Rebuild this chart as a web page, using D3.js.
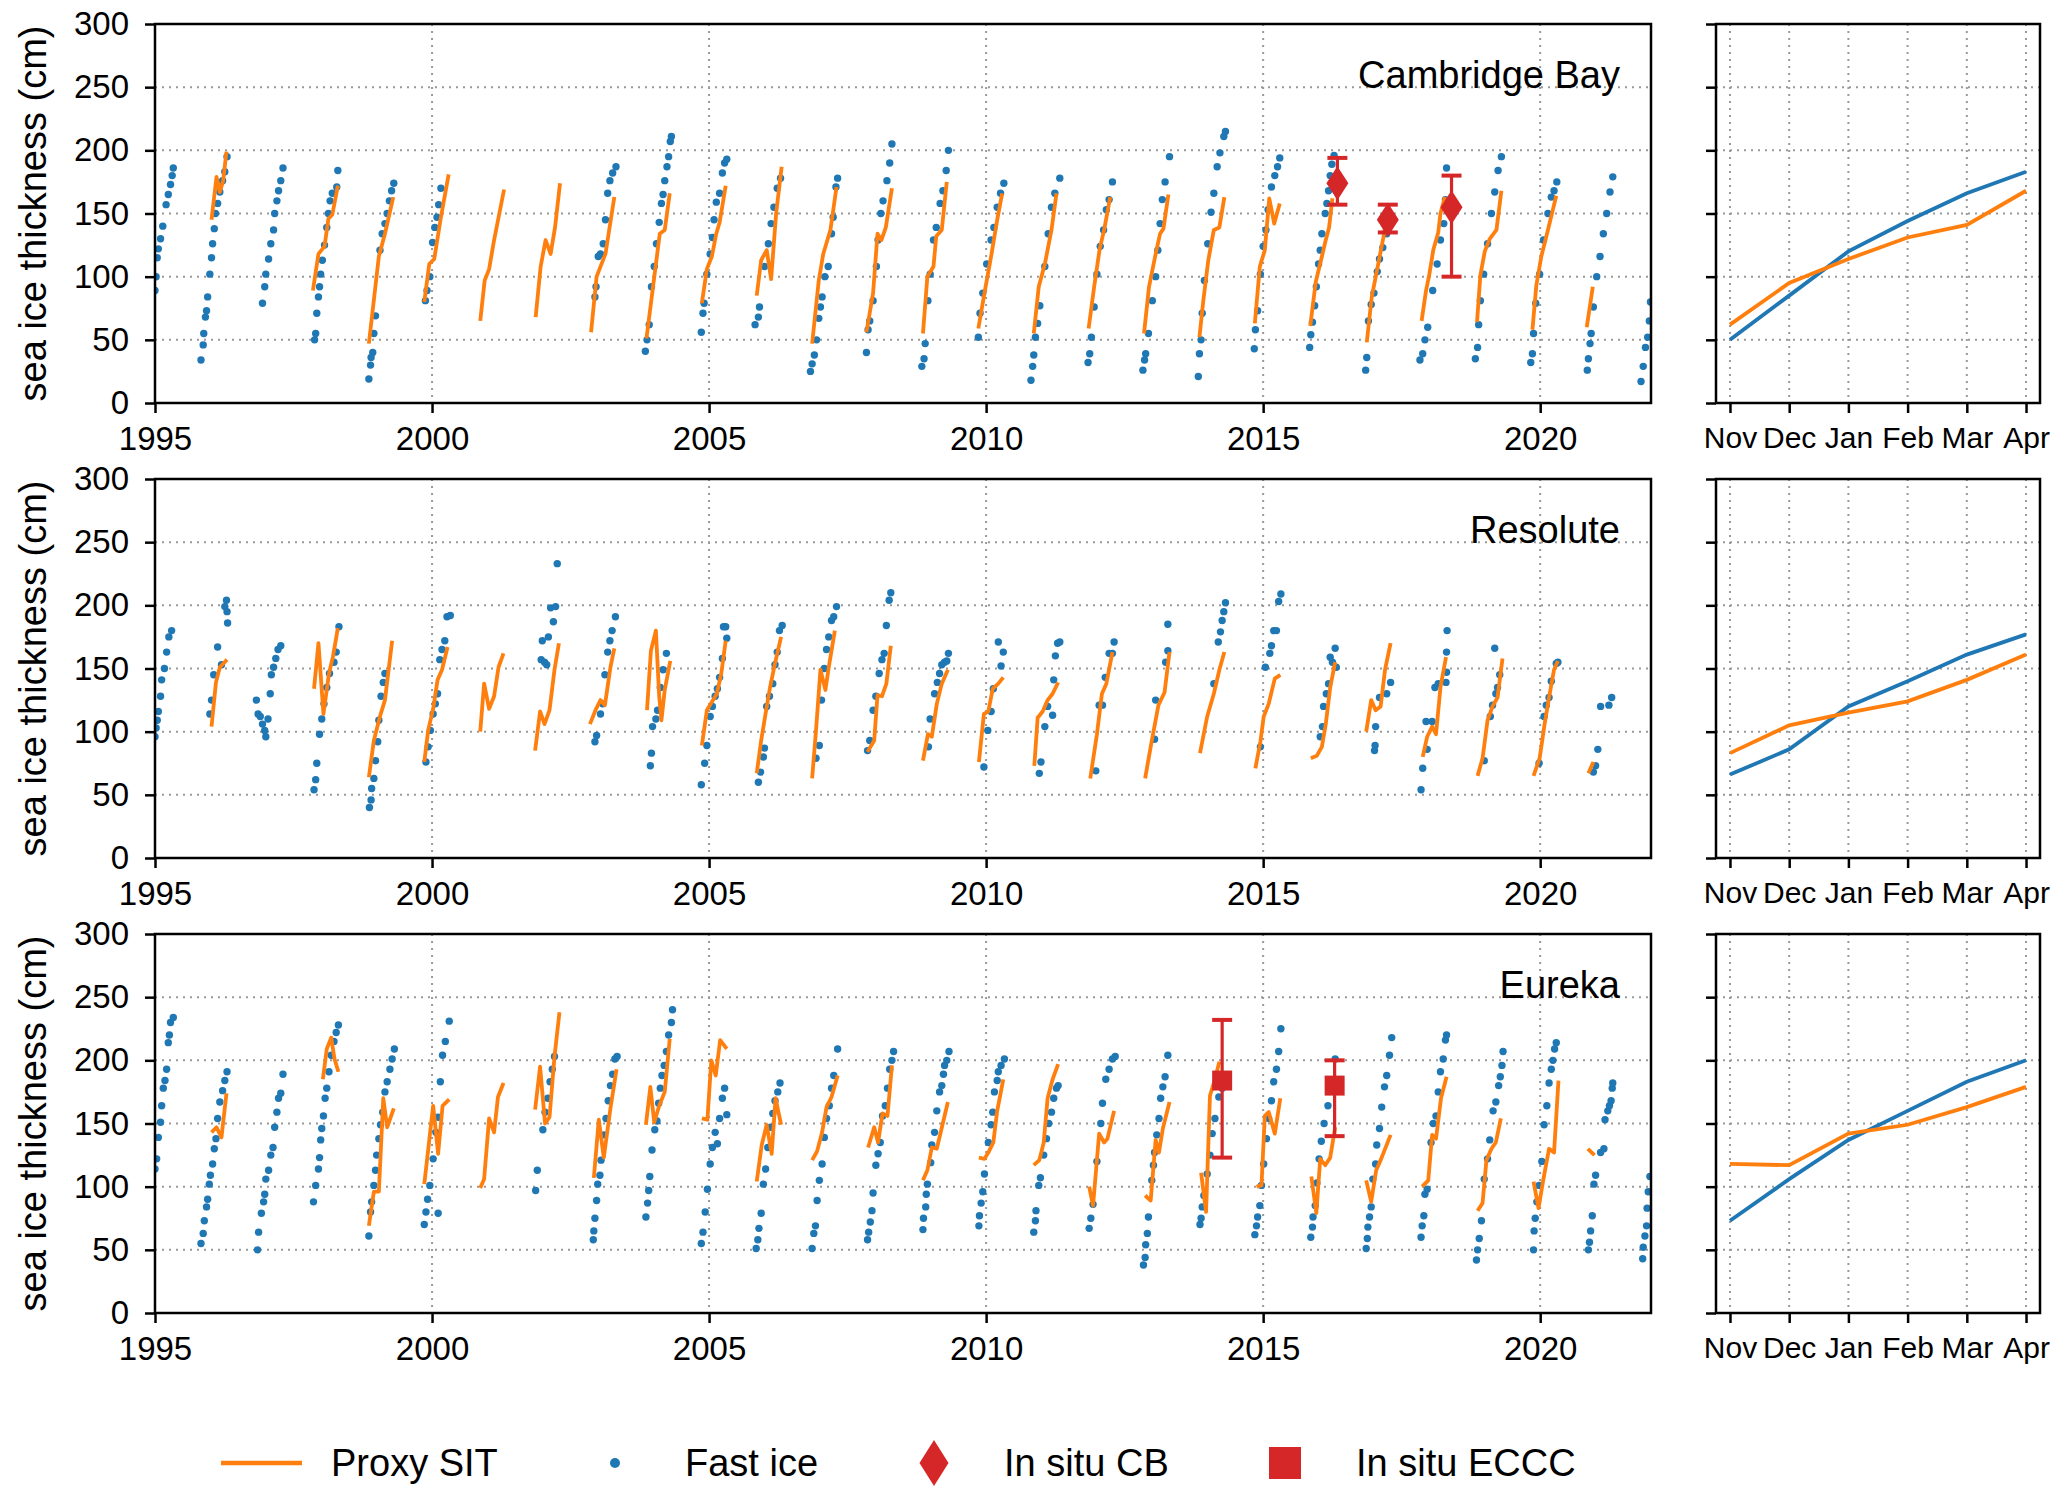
<!DOCTYPE html>
<html>
<head>
<meta charset="utf-8">
<script src="https://d3js.org/d3.v7.min.js"></script>
<style>
  body { margin: 0; background: #fff; }
  text { font-family: "Liberation Sans", Arial, sans-serif; }
</style>
</head>
<body>
<div id="chart"></div>
<script>
// ---- data ----
var stations = ["Cambridge Bay", "Resolute", "Eureka"];
var yearTicks = [1995, 2000, 2005, 2010, 2015, 2020];
var valueTicks = [0, 50, 100, 150, 200, 250, 300];
var months = ["Nov", "Dec", "Jan", "Feb", "Mar", "Apr"];

// Cambridge Bay
var cbFast = [
  [[1995.0,89],[1995.02,100],[1995.04,115],[1995.06,122],[1995.1,130],[1995.14,140],[1995.2,157],[1995.24,165],[1995.28,173],[1995.31,180],[1995.33,186]],
  [[1995.83,34],[1995.87,46],[1995.88,55],[1995.91,68],[1995.93,73],[1995.95,84],[1995.99,102],[1996.02,115],[1996.04,126],[1996.07,138],[1996.09,150],[1996.13,158],[1996.17,167],[1996.22,176],[1996.26,183],[1996.3,195]],
  [[1996.94,79],[1996.98,92],[1997.0,102],[1997.05,114],[1997.09,126],[1997.14,137],[1997.16,150],[1997.2,160],[1997.23,168],[1997.27,176],[1997.31,186]],
  [[1997.88,50],[1997.9,55],[1997.92,71],[1997.95,84],[1997.97,92],[1997.99,102],[1998.02,113],[1998.06,125],[1998.1,139],[1998.13,150],[1998.16,160],[1998.2,166],[1998.28,171],[1998.3,184]],
  [[1998.86,19],[1998.89,30],[1998.9,36],[1998.93,40],[1998.95,55],[1998.98,69],[1999.06,121],[1999.1,134],[1999.15,142],[1999.19,150],[1999.23,160],[1999.27,168],[1999.31,174]],
  [[1999.88,81],[1999.91,89],[1999.96,100],[2000.01,127],[2000.05,139],[2000.09,147],[2000.12,157],[2000.16,170]],
  [[2002.94,84],[2002.96,92],[2003.0,116],[2003.04,118],[2003.09,126],[2003.13,145],[2003.17,166],[2003.21,176],[2003.26,182],[2003.32,187]],
  [[2003.85,41],[2003.88,50],[2003.92,62],[2003.96,92],[2004.01,108],[2004.05,126],[2004.1,143],[2004.14,158],[2004.17,165],[2004.2,176],[2004.24,187],[2004.27,195],[2004.3,207],[2004.32,211]],
  [[2004.86,56],[2004.89,71],[2004.91,79],[2004.96,102],[2005.02,118],[2005.06,131],[2005.09,145],[2005.13,159],[2005.19,166],[2005.24,182],[2005.28,190],[2005.32,193]],
  [[2005.83,62],[2005.89,68],[2005.91,76],[2006.0,108],[2006.07,126],[2006.12,142],[2006.17,155],[2006.23,170],[2006.29,178]],
  [[2006.83,25],[2006.86,31],[2006.9,38],[2006.94,50],[2006.98,67],[2007.01,76],[2007.04,84],[2007.09,100],[2007.15,108],[2007.21,134],[2007.24,147],[2007.29,171],[2007.32,178]],
  [[2007.84,40],[2007.87,58],[2007.9,65],[2007.96,81],[2008.02,108],[2008.05,129],[2008.1,150],[2008.14,160],[2008.21,176],[2008.26,190],[2008.3,205]],
  [[2008.84,29],[2008.88,35],[2008.9,47],[2008.95,81],[2008.99,102],[2009.05,129],[2009.1,139],[2009.17,158],[2009.22,168],[2009.28,184],[2009.32,200]],
  [[2009.86,52],[2009.89,71],[2009.94,87],[2010.01,110],[2010.09,129],[2010.14,139],[2010.2,155],[2010.26,166],[2010.32,174]],
  [[2010.81,18],[2010.84,29],[2010.86,38],[2010.89,52],[2010.93,63],[2010.97,77],[2011.06,108],[2011.12,134],[2011.18,155],[2011.24,166],[2011.33,178]],
  [[2011.84,32],[2011.87,39],[2011.9,52],[2011.95,76],[2012.0,102],[2012.06,124],[2012.12,137],[2012.17,153],[2012.22,161],[2012.28,175]],
  [[2012.83,26],[2012.86,34],[2012.88,39],[2012.93,55],[2013.0,81],[2013.06,100],[2013.1,121],[2013.14,142],[2013.18,161],[2013.23,175],[2013.31,195]],
  [[2013.83,21],[2013.85,39],[2013.88,50],[2013.9,71],[2013.94,97],[2014.0,126],[2014.06,151],[2014.11,166],[2014.17,187],[2014.22,198],[2014.29,211],[2014.32,215]],
  [[2014.84,43],[2014.86,58],[2014.9,73],[2014.95,102],[2015.0,124],[2015.05,137],[2015.09,153],[2015.15,171],[2015.21,180],[2015.26,187],[2015.3,194]],
  [[2015.84,44],[2015.86,54],[2015.89,64],[2015.93,77],[2015.96,92],[2016.0,110],[2016.03,121],[2016.06,134],[2016.12,150],[2016.15,158],[2016.18,168],[2016.21,180],[2016.24,189],[2016.28,196]],
  [[2016.85,26],[2016.87,36],[2016.9,65],[2016.95,78],[2017.0,87],[2017.06,104],[2017.1,114],[2017.16,123],[2017.23,134]],
  [[2017.83,34],[2017.88,39],[2017.92,50],[2017.97,60],[2018.06,89],[2018.14,110],[2018.2,129],[2018.26,142],[2018.29,161],[2018.31,186]],
  [[2018.83,35],[2018.87,44],[2018.89,62],[2018.92,81],[2018.98,102],[2019.05,126],[2019.12,150],[2019.18,167],[2019.24,184],[2019.3,195]],
  [[2019.83,32],[2019.86,39],[2019.88,55],[2019.92,79],[2019.99,102],[2020.06,129],[2020.14,150],[2020.2,163],[2020.25,168],[2020.3,175]],
  [[2020.85,26],[2020.87,35],[2020.9,47],[2020.92,55],[2020.96,76],[2021.02,100],[2021.08,116],[2021.14,134],[2021.2,150],[2021.26,167],[2021.31,179]],
  [[2021.82,17],[2021.86,29],[2021.9,44],[2021.94,52],[2021.97,65],[2021.99,80]]
];
var cbProxy = [
  [[1996.02,145],[1996.11,179],[1996.17,167],[1996.23,176],[1996.29,199]],
  [[1997.85,89],[1997.95,118],[1998.06,124],[1998.13,146],[1998.2,149],[1998.3,172]],
  [[1998.86,47],[1999.04,116],[1999.15,134],[1999.3,163]],
  [[1999.86,80],[1999.95,110],[2000.04,114],[2000.16,147],[2000.3,181]],
  [[2000.87,65],[2000.95,97],[2001.03,106],[2001.12,129],[2001.3,169]],
  [[2001.87,68],[2001.96,108],[2002.05,129],[2002.14,118],[2002.22,139],[2002.31,174]],
  [[2002.87,56],[2002.97,100],[2003.13,118],[2003.29,163]],
  [[2003.87,51],[2004.11,134],[2004.2,137],[2004.29,166]],
  [[2004.87,79],[2004.96,106],[2005.05,116],[2005.13,134],[2005.19,143],[2005.3,172]],
  [[2005.86,85],[2005.94,113],[2006.04,121],[2006.12,98],[2006.21,150],[2006.31,187]],
  [[2006.86,47],[2006.98,97],[2007.06,118],[2007.19,137],[2007.3,171]],
  [[2007.84,56],[2007.96,87],[2008.04,134],[2008.11,129],[2008.19,139],[2008.3,170]],
  [[2008.86,55],[2008.94,100],[2009.05,108],[2009.1,132],[2009.2,137],[2009.29,175]],
  [[2009.86,59],[2009.97,87],[2010.09,116],[2010.2,145],[2010.29,166]],
  [[2010.86,55],[2010.95,92],[2011.06,110],[2011.18,137],[2011.27,166]],
  [[2011.85,59],[2011.95,92],[2012.05,122],[2012.13,137],[2012.24,163]],
  [[2012.85,55],[2012.94,92],[2013.06,118],[2013.14,134],[2013.2,138],[2013.29,165]],
  [[2013.85,52],[2013.92,81],[2014.01,113],[2014.11,137],[2014.21,139],[2014.3,163]],
  [[2014.85,63],[2014.94,108],[2015.03,121],[2015.11,162],[2015.2,142],[2015.3,158]],
  [[2015.85,61],[2015.95,96],[2016.06,116],[2016.13,129],[2016.19,139],[2016.25,162]],
  [[2016.87,48],[2016.96,84],[2017.05,104],[2017.17,131],[2017.26,158]],
  [[2017.86,65],[2017.94,89],[2018.0,102],[2018.07,121],[2018.16,135],[2018.2,150],[2018.28,163]],
  [[2018.86,64],[2018.92,101],[2019.0,120],[2019.09,130],[2019.21,137],[2019.3,168]],
  [[2019.86,58],[2019.93,93],[2020.02,116],[2020.14,137],[2020.29,164]],
  [[2020.84,60],[2020.95,92]]
];
// in situ: [year, value, low, high]
var cbInSitu = [[2016.34,174,157,194],[2017.25,145,135,157],[2018.4,155,100,180]];

// Resolute
var rFast = [
  [[1995.0,96],[1995.02,103],[1995.04,109],[1995.06,116],[1995.1,128],[1995.12,141],[1995.17,150],[1995.21,163],[1995.25,175],[1995.3,180]],
  [[1995.99,114],[1996.02,125],[1996.06,145],[1996.13,167],[1996.2,153],[1996.26,199],[1996.29,204],[1996.3,195],[1996.31,186]],
  [[1996.83,125],[1996.86,114],[1996.9,112],[1996.94,106],[1996.98,101],[1997.0,96],[1997.04,110],[1997.08,130],[1997.1,145],[1997.14,151],[1997.18,158],[1997.22,165],[1997.27,168]],
  [[1997.87,54],[1997.9,62],[1997.92,75],[1997.97,98],[1998.01,110],[1998.05,122],[1998.1,135],[1998.15,146],[1998.23,155],[1998.27,163],[1998.32,183]],
  [[1998.87,40],[1998.9,46],[1998.91,55],[1998.95,63],[1998.98,77],[1999.02,92],[1999.04,109],[1999.08,128],[1999.12,139],[1999.15,146]],
  [[1999.89,76],[1999.93,88],[1999.97,101],[2000.02,114],[2000.06,122],[2000.1,130],[2000.14,157],[2000.18,165],[2000.23,172],[2000.27,191],[2000.33,192]],
  [[2001.97,157],[2001.99,172],[2002.03,155],[2002.07,153],[2002.1,175],[2002.14,198],[2002.19,187],[2002.23,199],[2002.26,233]],
  [[2002.94,92],[2002.97,97],[2003.04,114],[2003.08,122],[2003.12,145],[2003.17,163],[2003.21,172],[2003.25,180],[2003.31,191]],
  [[2003.94,73],[2003.96,83],[2003.98,104],[2004.04,110],[2004.07,117],[2004.12,135],[2004.17,149],[2004.23,162]],
  [[2004.86,58],[2004.92,75],[2004.96,89],[2005.02,112],[2005.06,120],[2005.11,128],[2005.15,134],[2005.19,143],[2005.24,158],[2005.26,183],[2005.3,183],[2005.32,174]],
  [[2005.89,60],[2005.93,68],[2005.98,80],[2006.0,87],[2006.04,120],[2006.09,128],[2006.15,138],[2006.19,153],[2006.23,163],[2006.27,180],[2006.32,184]],
  [[2006.93,79],[2006.99,89],[2007.03,125],[2007.08,150],[2007.12,165],[2007.16,175],[2007.21,188],[2007.25,191],[2007.3,199]],
  [[2007.86,85],[2007.9,93],[2007.96,117],[2008.01,128],[2008.07,146],[2008.12,157],[2008.16,162],[2008.2,184],[2008.25,204],[2008.28,210]],
  [[2008.96,88],[2008.99,110],[2009.07,130],[2009.12,139],[2009.16,146],[2009.2,153],[2009.25,155],[2009.29,156],[2009.32,162]],
  [[2009.96,72],[2010.03,101],[2010.09,116],[2010.13,134],[2010.22,171],[2010.27,152],[2010.31,163]],
  [[2010.96,67],[2010.99,76],[2011.06,104],[2011.11,120],[2011.2,113],[2011.22,141],[2011.25,160],[2011.29,170],[2011.33,171]],
  [[2011.98,69],[2012.04,121],[2012.1,121],[2012.15,143],[2012.22,162],[2012.28,162],[2012.31,171]],
  [[2013.04,94],[2013.06,125],[2013.24,155],[2013.28,164],[2013.28,185]],
  [[2014.11,138],[2014.19,171],[2014.23,179],[2014.26,188],[2014.29,195],[2014.32,202]],
  [[2014.95,88],[2015.04,151],[2015.12,162],[2015.15,168],[2015.19,180],[2015.24,180],[2015.28,203],[2015.32,209]],
  [[2016.03,96],[2016.07,104],[2016.09,120],[2016.14,130],[2016.18,138],[2016.21,159],[2016.25,155],[2016.3,166],[2016.32,151]],
  [[2017.01,85],[2017.02,89],[2017.03,104],[2017.1,127],[2017.23,130],[2017.3,139]],
  [[2017.85,54],[2017.88,71],[2017.94,108],[2017.96,86],[2018.05,108],[2018.1,135],[2018.16,138],[2018.3,139],[2018.31,147],[2018.31,163],[2018.32,180]],
  [[2018.99,77],[2019.1,112],[2019.14,121],[2019.18,166],[2019.2,130],[2019.23,135],[2019.27,145]],
  [[2019.98,75],[2020.07,112],[2020.11,121],[2020.16,127],[2020.2,140],[2020.29,154],[2020.32,155]],
  [[2020.96,68],[2021.0,73],[2021.04,86],[2021.09,120],[2021.24,121],[2021.29,127]]
];
var rProxy = [
  [[1996.02,104],[1996.1,139],[1996.17,151],[1996.3,157]],
  [[1997.87,134],[1997.95,170],[1998.04,114],[1998.14,146],[1998.21,159],[1998.3,182]],
  [[1998.86,64],[1998.95,93],[1999.06,112],[1999.15,125],[1999.28,172]],
  [[1999.86,76],[1999.93,101],[2000.02,118],[2000.1,141],[2000.18,149],[2000.28,167]],
  [[2000.87,100],[2000.94,138],[2001.03,118],[2001.12,128],[2001.2,151],[2001.29,162]],
  [[2001.86,85],[2001.95,116],[2002.03,106],[2002.12,117],[2002.21,149],[2002.29,170]],
  [[2002.85,106],[2002.95,117],[2003.04,125],[2003.12,121],[2003.22,151],[2003.29,166]],
  [[2003.88,117],[2003.95,164],[2004.04,180],[2004.1,128],[2004.14,109],[2004.2,133],[2004.3,156]],
  [[2004.87,89],[2004.96,117],[2005.14,130],[2005.22,146],[2005.3,172]],
  [[2005.86,67],[2005.94,93],[2006.03,117],[2006.1,135],[2006.19,154],[2006.3,175]],
  [[2006.86,63],[2006.93,101],[2007.01,149],[2007.1,133],[2007.16,151],[2007.27,180]],
  [[2007.86,84],[2007.98,93],[2008.04,129],[2008.12,128],[2008.2,138],[2008.28,168]],
  [[2008.86,77],[2008.95,98],[2009.02,96],[2009.11,122],[2009.2,138],[2009.31,149]],
  [[2009.87,76],[2009.96,114],[2010.04,116],[2010.12,134],[2010.22,138],[2010.31,143]],
  [[2010.87,73],[2010.93,111],[2011.02,116],[2011.11,125],[2011.2,130],[2011.3,139]],
  [[2011.88,63],[2012.0,98],[2012.09,130],[2012.17,138],[2012.28,163]],
  [[2012.87,63],[2012.97,88],[2013.11,121],[2013.22,131],[2013.31,163]],
  [[2013.86,83],[2013.99,112],[2014.11,130],[2014.21,149],[2014.3,163]],
  [[2014.86,71],[2014.95,92],[2015.01,112],[2015.1,122],[2015.21,142],[2015.31,145]],
  [[2015.86,79],[2015.97,81],[2016.06,88],[2016.13,106],[2016.21,135],[2016.3,155]],
  [[2016.86,100],[2016.95,125],[2017.03,117],[2017.12,120],[2017.2,149],[2017.3,170]],
  [[2017.88,80],[2017.96,96],[2018.05,104],[2018.12,98],[2018.2,135],[2018.3,159]],
  [[2018.87,65],[2018.96,79],[2019.05,109],[2019.14,120],[2019.23,127],[2019.32,158]],
  [[2019.88,65],[2019.99,79],[2020.08,106],[2020.16,127],[2020.25,149],[2020.32,156]],
  [[2020.87,67],[2020.96,76]]
];
var rInSitu = [];

// Eureka
var eFast = [
  [[1995.0,114],[1995.03,122],[1995.06,139],[1995.1,151],[1995.12,164],[1995.15,178],[1995.18,184],[1995.21,193],[1995.24,214],[1995.26,220],[1995.28,230],[1995.33,234]],
  [[1995.83,55],[1995.87,63],[1995.89,73],[1995.93,84],[1995.95,90],[1995.98,102],[1996.0,109],[1996.04,118],[1996.07,130],[1996.1,138],[1996.13,154],[1996.17,167],[1996.22,176],[1996.26,184],[1996.3,191]],
  [[1996.85,50],[1996.87,64],[1996.92,79],[1996.96,88],[1996.98,94],[1997.0,106],[1997.05,113],[1997.09,125],[1997.13,131],[1997.16,147],[1997.2,159],[1997.23,170],[1997.27,174],[1997.31,189]],
  [[1997.86,88],[1997.9,101],[1997.95,114],[1997.97,123],[1997.99,137],[1998.01,146],[1998.04,156],[1998.07,170],[1998.1,178],[1998.14,191],[1998.18,204],[1998.23,215],[1998.27,222],[1998.31,228]],
  [[1998.86,61],[1998.89,80],[1998.91,88],[1998.95,101],[1998.98,113],[1999.0,125],[1999.04,138],[1999.07,149],[1999.11,159],[1999.15,175],[1999.19,183],[1999.24,193],[1999.28,201],[1999.32,209]],
  [[1999.86,70],[1999.89,80],[1999.92,90],[1999.96,101],[2000.02,122],[2000.07,143],[2000.11,155],[2000.11,79],[2000.15,183],[2000.19,204],[2000.24,215],[2000.31,231]],
  [[2001.87,97],[2001.9,113],[2002.0,145],[2002.04,159],[2002.09,170],[2002.13,183],[2002.17,193],[2002.21,203]],
  [[2002.91,58],[2002.92,65],[2002.94,75],[2002.97,89],[2002.99,102],[2003.03,109],[2003.05,121],[2003.1,141],[2003.14,154],[2003.18,168],[2003.22,180],[2003.26,189],[2003.3,201],[2003.34,203]],
  [[2003.86,76],[2003.89,87],[2003.91,97],[2003.93,108],[2003.97,129],[2004.02,145],[2004.06,152],[2004.09,166],[2004.12,178],[2004.15,188],[2004.19,196],[2004.23,207],[2004.27,220],[2004.32,230],[2004.34,240]],
  [[2004.86,55],[2004.89,64],[2004.93,80],[2004.97,98],[2005.02,118],[2005.06,131],[2005.11,143],[2005.15,134],[2005.19,154],[2005.24,170],[2005.28,178],[2005.32,157]],
  [[2005.85,51],[2005.88,58],[2005.9,67],[2005.94,79],[2005.98,102],[2006.02,114],[2006.06,131],[2006.11,147],[2006.15,158],[2006.19,168],[2006.24,175],[2006.28,182]],
  [[2006.86,51],[2006.89,63],[2006.92,69],[2006.95,89],[2006.99,105],[2007.04,118],[2007.08,139],[2007.12,154],[2007.17,164],[2007.21,178],[2007.25,188],[2007.32,209]],
  [[2007.86,58],[2007.88,64],[2007.91,72],[2007.94,81],[2007.96,95],[2008.01,117],[2008.05,126],[2008.09,135],[2008.13,156],[2008.18,164],[2008.22,178],[2008.26,193],[2008.3,200],[2008.33,207]],
  [[2008.86,66],[2008.87,75],[2008.91,84],[2008.92,94],[2008.94,102],[2009.0,119],[2009.02,133],[2009.07,143],[2009.11,160],[2009.16,175],[2009.2,180],[2009.23,189],[2009.25,196],[2009.29,200],[2009.33,207]],
  [[2009.87,69],[2009.88,77],[2009.91,87],[2009.94,96],[2009.97,110],[2010.04,135],[2010.09,149],[2010.12,159],[2010.15,175],[2010.2,184],[2010.22,191],[2010.27,196],[2010.33,201]],
  [[2010.86,64],[2010.89,73],[2010.9,81],[2010.95,101],[2010.98,107],[2011.04,125],[2011.09,138],[2011.13,150],[2011.18,159],[2011.22,170],[2011.27,178],[2011.3,180]],
  [[2011.86,67],[2011.89,75],[2011.93,86],[2012.0,120],[2012.07,150],[2012.1,166],[2012.16,185],[2012.22,193],[2012.28,201],[2012.33,203]],
  [[2012.84,38],[2012.87,44],[2012.88,54],[2012.91,63],[2012.93,76],[2012.99,105],[2013.02,117],[2013.04,127],[2013.08,141],[2013.12,154],[2013.15,170],[2013.19,179],[2013.23,187],[2013.28,204]],
  [[2013.86,70],[2013.88,75],[2013.9,84],[2013.93,93],[2013.99,110],[2014.04,125],[2014.08,142],[2014.13,154],[2014.2,171],[2014.26,178],[2014.3,185]],
  [[2014.85,62],[2014.88,69],[2014.9,76],[2014.94,85],[2014.97,101],[2015.01,118],[2015.06,138],[2015.1,154],[2015.15,168],[2015.19,183],[2015.24,193],[2015.28,207],[2015.32,225]],
  [[2015.86,60],[2015.89,68],[2015.9,76],[2015.94,85],[2015.97,103],[2016.01,122],[2016.05,136],[2016.1,150],[2016.17,164],[2016.26,183],[2016.3,201]],
  [[2016.86,51],[2016.88,59],[2016.89,68],[2016.92,76],[2016.95,84],[2016.98,106],[2017.03,118],[2017.05,133],[2017.1,146],[2017.14,163],[2017.19,179],[2017.23,188],[2017.28,204],[2017.32,218]],
  [[2017.85,60],[2017.87,69],[2017.9,77],[2017.92,94],[2017.96,98],[2018.03,135],[2018.07,150],[2018.12,156],[2018.16,175],[2018.2,191],[2018.25,201],[2018.29,216],[2018.31,220]],
  [[2018.85,42],[2018.87,50],[2018.9,59],[2018.94,73],[2018.99,106],[2019.05,122],[2019.09,137],[2019.15,160],[2019.2,167],[2019.25,180],[2019.28,187],[2019.31,196],[2019.33,207]],
  [[2019.88,50],[2019.89,65],[2019.91,75],[2019.94,88],[2019.98,101],[2020.03,120],[2020.07,149],[2020.12,164],[2020.16,182],[2020.2,193],[2020.23,200],[2020.26,209],[2020.29,214]],
  [[2020.87,50],[2020.89,56],[2020.91,65],[2020.94,77],[2020.97,102],[2021.0,109],[2021.09,127],[2021.15,130],[2021.17,153],[2021.22,160],[2021.25,164],[2021.28,168],[2021.3,178],[2021.31,182]],
  [[2021.85,43],[2021.86,52],[2021.89,61],[2021.92,69],[2021.93,83],[2021.95,96],[2021.98,108]]
];
var eProxy = [
  [[1996.02,143],[1996.11,147],[1996.2,139],[1996.29,174]],
  [[1998.03,185],[1998.1,209],[1998.18,218],[1998.24,201],[1998.31,191]],
  [[1998.86,69],[1998.95,96],[1999.04,96],[1999.12,170],[1999.19,147],[1999.31,162]],
  [[1999.86,102],[1999.94,133],[2000.02,164],[2000.11,126],[2000.19,164],[2000.31,169]],
  [[2000.87,99],[2000.94,106],[2001.03,154],[2001.12,143],[2001.19,171],[2001.29,182]],
  [[2001.86,161],[2001.95,195],[2002.04,150],[2002.12,155],[2002.21,203],[2002.3,238]],
  [[2002.92,107],[2003.01,153],[2003.1,123],[2003.22,162],[2003.33,193]],
  [[2003.86,149],[2003.94,179],[2004.01,151],[2004.1,164],[2004.2,175],[2004.29,217]],
  [[2004.87,154],[2004.97,153],[2005.04,200],[2005.12,188],[2005.2,216],[2005.32,209]],
  [[2005.86,104],[2005.95,133],[2006.04,149],[2006.13,126],[2006.2,170],[2006.3,149]],
  [[2006.86,121],[2006.95,128],[2007.04,143],[2007.12,163],[2007.21,171],[2007.32,188]],
  [[2007.87,131],[2007.98,147],[2008.05,135],[2008.13,158],[2008.22,156],[2008.3,196]],
  [[2008.86,105],[2008.94,113],[2009.02,131],[2009.11,130],[2009.31,167]],
  [[2009.87,123],[2009.97,122],[2010.04,127],[2010.13,135],[2010.2,160],[2010.31,185]],
  [[2010.86,117],[2010.96,121],[2011.04,135],[2011.11,170],[2011.2,185],[2011.3,197]],
  [[2011.86,100],[2011.93,85],[2012.04,142],[2012.13,135],[2012.19,138],[2012.31,160]],
  [[2012.87,93],[2012.97,89],[2013.06,137],[2013.12,127],[2013.19,146],[2013.31,167]],
  [[2013.88,111],[2013.97,80],[2014.04,172],[2014.13,185],[2014.21,199]],
  [[2014.88,100],[2014.97,101],[2015.03,156],[2015.1,159],[2015.21,142],[2015.31,170]],
  [[2015.87,108],[2015.96,79],[2016.03,122],[2016.12,117],[2016.21,123],[2016.3,147]],
  [[2016.86,105],[2016.95,88],[2017.04,113],[2017.13,122],[2017.3,141]],
  [[2017.87,100],[2017.98,105],[2018.05,141],[2018.12,138],[2018.21,170],[2018.31,187]],
  [[2018.87,81],[2018.96,87],[2019.03,121],[2019.12,130],[2019.2,135],[2019.29,154]],
  [[2019.88,104],[2019.97,83],[2020.05,104],[2020.16,130],[2020.25,127],[2020.33,184]],
  [[2020.86,130],[2020.98,125]]
];
var eInSitu = [[2014.26,184,123,232],[2016.29,180,140,200]];

// monthly means Nov..Apr
var cbMonthFast = [50, 85, 120, 144, 166, 183];
var cbMonthProxy = [62, 95, 114, 131, 141, 168];
var rMonthFast = [66, 86, 120, 140, 161, 177];
var rMonthProxy = [83, 105, 115, 124, 141, 161];
var eMonthFast = [73, 106, 137, 160, 183, 200];
var eMonthProxy = [118, 117, 142, 149, 163, 179];

// ---- layout ----
var W = 2067, H = 1500;
var mainLeft = 155, mainRight = 1651;
var smallLeft = 1716, smallRight = 2040;
var panelTop = 24, panelH = 379, panelStep = 455;
var ORANGE = "#ff7f0e", BLUE = "#1f77b4", RED = "#d62728";
var tickFont = 33, monthFont = 30, bigFont = 38;

var panels = [
  {name: stations[0], fast: cbFast, proxy: cbProxy, insitu: cbInSitu, marker: "diamond", mFast: cbMonthFast, mProxy: cbMonthProxy},
  {name: stations[1], fast: rFast, proxy: rProxy, insitu: rInSitu, marker: "diamond", mFast: rMonthFast, mProxy: rMonthProxy},
  {name: stations[2], fast: eFast, proxy: eProxy, insitu: eInSitu, marker: "square", mFast: eMonthFast, mProxy: eMonthProxy}
];

var svg = d3.select("#chart").append("svg")
  .attr("width", W).attr("height", H)
  .style("background", "#fff");

var x = d3.scaleLinear().domain([1995, 2022]).range([mainLeft, mainRight]);
var xm = d3.scalePoint().domain(months).range([smallLeft, smallRight]).padding(0.236);

function styleAxis(size) {
  return function(g) {
    g.selectAll(".domain").remove();
    g.selectAll(".tick line").attr("stroke", "#000").attr("stroke-width", 2.5);
    g.selectAll(".tick text").attr("font-size", size).attr("fill", "#000")
      .style("font-family", "'Liberation Sans', Arial, sans-serif");
  };
}

function gridStyle(sel) {
  sel.attr("stroke", "#999").attr("stroke-width", 2).attr("stroke-dasharray", "2,5");
}

function diamondPath(w, h) {
  return "M0," + (-h / 2) + "L" + (w / 2) + ",0L0," + (h / 2) + "L" + (-w / 2) + ",0Z";
}

panels.forEach(function(p, i) {
  var top = panelTop + i * panelStep, bottom = top + panelH;
  var y = d3.scaleLinear().domain([0, 300]).range([bottom, top]);
  var g = svg.append("g");

  // clip for the main panel
  var clipId = "clip" + i;
  svg.append("clipPath").attr("id", clipId).append("rect")
    .attr("x", mainLeft).attr("y", top).attr("width", mainRight - mainLeft).attr("height", panelH);

  // grid - main
  g.selectAll(".gy").data(valueTicks).enter().append("line")
    .attr("x1", mainLeft).attr("x2", mainRight)
    .attr("y1", function(d) { return y(d); }).attr("y2", function(d) { return y(d); })
    .call(gridStyle);
  g.selectAll(".gx").data(yearTicks).enter().append("line")
    .attr("x1", function(d) { return x(d); }).attr("x2", function(d) { return x(d); })
    .attr("y1", top).attr("y2", bottom)
    .call(gridStyle);

  // grid - small
  g.selectAll(".sgy").data(valueTicks).enter().append("line")
    .attr("x1", smallLeft).attr("x2", smallRight)
    .attr("y1", function(d) { return y(d); }).attr("y2", function(d) { return y(d); })
    .call(gridStyle);
  g.selectAll(".sgx").data(months).enter().append("line")
    .attr("x1", function(d) { return xm(d); }).attr("x2", function(d) { return xm(d); })
    .attr("y1", top).attr("y2", bottom)
    .call(gridStyle);

  var plot = g.append("g").attr("clip-path", "url(#" + clipId + ")");

  // fast ice dots
  var dots = [].concat.apply([], p.fast);
  plot.selectAll(".dot").data(dots).enter().append("circle")
    .attr("cx", function(d) { return x(d[0]); })
    .attr("cy", function(d) { return y(d[1]); })
    .attr("r", 3.7)
    .attr("fill", BLUE);

  // proxy SIT segments
  var line = d3.line().x(function(d) { return x(d[0]); }).y(function(d) { return y(d[1]); });
  plot.selectAll(".seg").data(p.proxy).enter().append("path")
    .attr("d", line)
    .attr("fill", "none")
    .attr("stroke", ORANGE)
    .attr("stroke-width", 3.8)
    .attr("stroke-linejoin", "round");

  // in situ with error bars
  var ins = plot.selectAll(".ins").data(p.insitu).enter().append("g");
  ins.append("line")
    .attr("x1", function(d) { return x(d[0]); }).attr("x2", function(d) { return x(d[0]); })
    .attr("y1", function(d) { return y(d[2]); }).attr("y2", function(d) { return y(d[3]); })
    .attr("stroke", RED).attr("stroke-width", 3.2);
  [2, 3].forEach(function(k) {
    ins.append("line")
      .attr("x1", function(d) { return x(d[0]) - 10; }).attr("x2", function(d) { return x(d[0]) + 10; })
      .attr("y1", function(d) { return y(d[k]); }).attr("y2", function(d) { return y(d[k]); })
      .attr("stroke", RED).attr("stroke-width", 4);
  });
  if (p.marker === "diamond") {
    ins.append("path")
      .attr("d", diamondPath(22, 34))
      .attr("transform", function(d) { return "translate(" + x(d[0]) + "," + y(d[1]) + ")"; })
      .attr("fill", RED);
  } else {
    ins.append("rect")
      .attr("x", function(d) { return x(d[0]) - 10; })
      .attr("y", function(d) { return y(d[1]) - 10; })
      .attr("width", 20).attr("height", 20)
      .attr("fill", RED);
  }

  // small panel lines
  var mline = d3.line().x(function(d, j) { return xm(months[j]); }).y(function(d) { return y(d); });
  g.append("path").datum(p.mFast).attr("d", mline)
    .attr("fill", "none").attr("stroke", BLUE).attr("stroke-width", 3.8);
  g.append("path").datum(p.mProxy).attr("d", mline)
    .attr("fill", "none").attr("stroke", ORANGE).attr("stroke-width", 3.8);

  // axes
  g.append("g").attr("transform", "translate(0," + bottom + ")")
    .call(d3.axisBottom(x).tickValues(yearTicks).tickFormat(d3.format("d")).tickSize(10).tickPadding(14))
    .call(styleAxis(tickFont));
  g.append("g").attr("transform", "translate(" + mainLeft + ",0)")
    .call(d3.axisLeft(y).tickValues(valueTicks).tickSize(10).tickPadding(16))
    .call(styleAxis(tickFont));
  g.append("g").attr("transform", "translate(0," + bottom + ")")
    .call(d3.axisBottom(xm).tickSize(10).tickPadding(14))
    .call(styleAxis(monthFont));
  g.append("g").attr("transform", "translate(" + smallLeft + ",0)")
    .call(d3.axisLeft(y).tickValues(valueTicks).tickSize(10).tickFormat(""))
    .call(styleAxis(tickFont));

  // frames
  g.append("rect").attr("x", mainLeft).attr("y", top)
    .attr("width", mainRight - mainLeft).attr("height", panelH)
    .attr("fill", "none").attr("stroke", "#000").attr("stroke-width", 2.5);
  g.append("rect").attr("x", smallLeft).attr("y", top)
    .attr("width", smallRight - smallLeft).attr("height", panelH)
    .attr("fill", "none").attr("stroke", "#000").attr("stroke-width", 2.5);

  // station name
  g.append("text").attr("x", 1620).attr("y", y(250) + 1)
    .attr("text-anchor", "end").attr("font-size", bigFont)
    .text(p.name);

  // y label
  g.append("text")
    .attr("transform", "translate(46," + ((top + bottom) / 2) + ") rotate(-90)")
    .attr("text-anchor", "middle").attr("font-size", bigFont)
    .text("sea ice thickness (cm)");
});

// legend
var ly = 1463;
var lg = svg.append("g");
lg.append("line").attr("x1", 221).attr("x2", 302).attr("y1", ly).attr("y2", ly)
  .attr("stroke", ORANGE).attr("stroke-width", 4.5);
lg.append("circle").attr("cx", 615).attr("cy", ly).attr("r", 5).attr("fill", BLUE);
lg.append("path").attr("d", diamondPath(29, 46)).attr("transform", "translate(934," + ly + ")").attr("fill", RED);
lg.append("rect").attr("x", 1285 - 16).attr("y", ly - 16).attr("width", 32).attr("height", 32).attr("fill", RED);
var legendItems = [["Proxy SIT", 331], ["Fast ice", 685], ["In situ CB", 1004], ["In situ ECCC", 1356]];
lg.selectAll(".lt").data(legendItems).enter().append("text")
  .attr("x", function(d) { return d[1]; }).attr("y", ly + 13)
  .attr("font-size", bigFont).text(function(d) { return d[0]; });
</script>
</body>
</html>
